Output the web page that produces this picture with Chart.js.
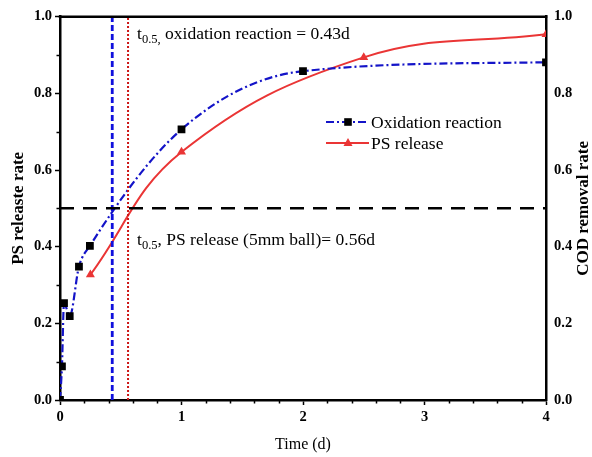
<!DOCTYPE html>
<html>
<head>
<meta charset="utf-8">
<script src="https://cdn.jsdelivr.net/npm/chart.js@4.4.1/dist/chart.umd.min.js"></script>
<style>
  html, body { margin: 0; padding: 0; background: #fff; }
  #wrap { width: 592px; height: 457px; }
</style>
</head>
<body>
<div id="wrap"><canvas id="c" width="592" height="457"></canvas></div>
<script>
const SERIF = '"Liberation Serif", "Times New Roman", Times, serif';

// Oxidation reaction (COD removal) over time, days
const oxTime = [0, 0.016, 0.033, 0.08, 0.156, 0.246, 1, 2, 4];
const oxRate = [0, 0.088, 0.253, 0.219, 0.348, 0.402, 0.706, 0.858, 0.881];

// PS release over time, days
const psTime = [0.25, 1, 2.5, 4];
const psRate = [0.327, 0.647, 0.894, 0.954];

// Half-life markers
const halfLevel = 0.5;
const tHalfOxidation = 0.43;
const tHalfRelease = 0.56;

// Axis ticks and labels
const xTicks = [0, 1, 2, 3, 4];
const xMinorTicks = [0.2, 0.4, 0.6, 0.8, 1.2, 1.4, 1.6, 1.8, 2.2, 2.4, 2.6, 2.8, 3.2, 3.4, 3.6, 3.8];
const yTicks = [0, 0.2, 0.4, 0.6, 0.8, 1.0];
const yMinorTicks = [0.1, 0.3, 0.5, 0.7, 0.9];
const seriesNames = ['Oxidation reaction', 'PS release'];
const xTitle = 'Time (d)';
const yTitle = 'PS releaste rate';
const y2Title = 'COD removal rate';

const BLUE = '#1414c8';
const RED = '#ea3535';

const toPoints = (xs, ys) => xs.map((x, i) => ({ x: x, y: ys[i] }));

// Text labels placed in data coordinates
const notes = [
  { x: 0.634, y: 0.941, pre: 't', sub: '0.5,', post: ' oxidation reaction = ' + tHalfOxidation.toFixed(2) + 'd' },
  { x: 0.634, y: 0.405, pre: 't', sub: '0.5', post: ', PS release (5mm ball)= ' + tHalfRelease.toFixed(2) + 'd' }
];

const decor = {
  id: 'decor',
  afterDraw(chart) {
    const ctx = chart.ctx;
    const a = chart.chartArea;
    const sx = chart.scales.x, sy = chart.scales.y;
    ctx.save();

    // top frame edge
    ctx.strokeStyle = '#000';
    ctx.lineWidth = 2.5;
    ctx.beginPath();
    ctx.moveTo(a.left - 1.25, a.top);
    ctx.lineTo(a.right + 1.25, a.top);
    ctx.stroke();

    // minor ticks
    ctx.lineWidth = 1.5;
    ctx.beginPath();
    xMinorTicks.forEach(v => {
      const px = Math.round(sx.getPixelForValue(v)) + 0.5;
      ctx.moveTo(px, a.bottom);
      ctx.lineTo(px, a.bottom + 3.5);
    });
    yMinorTicks.forEach(v => {
      const py = Math.round(sy.getPixelForValue(v)) + 0.5;
      ctx.moveTo(a.left, py);
      ctx.lineTo(a.left - 3.5, py);
    });
    ctx.stroke();

    // axis titles
    ctx.fillStyle = '#000';
    ctx.textAlign = 'center';
    ctx.textBaseline = 'middle';
    ctx.font = '16px ' + SERIF;
    ctx.fillText(xTitle, (a.left + a.right) / 2, 445);

    ctx.font = 'bold 17px ' + SERIF;
    const cy = (a.top + a.bottom) / 2;
    ctx.save();
    ctx.translate(19, cy);
    ctx.rotate(-Math.PI / 2);
    ctx.fillText(yTitle, 0, 0);
    ctx.restore();
    ctx.save();
    ctx.translate(584, cy);
    ctx.rotate(-Math.PI / 2);
    ctx.fillText(y2Title, 0, 0);
    ctx.restore();

    // notes with subscripts
    ctx.textAlign = 'left';
    ctx.textBaseline = 'alphabetic';
    notes.forEach(n => {
      let px = sx.getPixelForValue(n.x);
      const py = sy.getPixelForValue(n.y);
      ctx.font = '17.5px ' + SERIF;
      ctx.fillText(n.pre, px, py);
      px += ctx.measureText(n.pre).width;
      ctx.font = '12.5px ' + SERIF;
      ctx.fillText(n.sub, px, py + 4);
      px += ctx.measureText(n.sub).width;
      ctx.font = '17.5px ' + SERIF;
      ctx.fillText(n.post, px, py);
    });

    // legend
    const lx0 = 326, lx1 = 369, mx = 348, tx = 371;
    const rows = [122, 143];
    ctx.font = '17.5px ' + SERIF;
    ctx.textBaseline = 'middle';

    ctx.strokeStyle = BLUE;
    ctx.lineWidth = 2.2;
    ctx.setLineDash([8, 3, 2, 3]);
    ctx.beginPath();
    ctx.moveTo(lx0, rows[0]);
    ctx.lineTo(lx1, rows[0]);
    ctx.stroke();
    ctx.setLineDash([]);
    ctx.fillStyle = '#000';
    ctx.fillRect(mx - 3.8, rows[0] - 3.8, 7.6, 7.6);
    ctx.fillText(seriesNames[0], tx, rows[0] + 1);

    ctx.strokeStyle = RED;
    ctx.lineWidth = 2;
    ctx.beginPath();
    ctx.moveTo(lx0, rows[1]);
    ctx.lineTo(lx1, rows[1]);
    ctx.stroke();
    ctx.fillStyle = RED;
    ctx.beginPath();
    ctx.moveTo(mx, rows[1] - 5);
    ctx.lineTo(mx + 4.5, rows[1] + 3);
    ctx.lineTo(mx - 4.5, rows[1] + 3);
    ctx.closePath();
    ctx.fill();
    ctx.fillStyle = '#000';
    ctx.fillText(seriesNames[1], tx, rows[1] + 1);

    ctx.restore();
  }
};

const tickFont = { family: SERIF, size: 14.5, weight: 'bold' };

new Chart(document.getElementById('c'), {
  type: 'line',
  data: {
    datasets: [
      {
        label: 'half level',
        data: [{ x: 0, y: halfLevel }, { x: 4, y: halfLevel }],
        borderColor: '#000',
        borderWidth: 2.5,
        borderDash: [14, 9],
        pointRadius: 0,
        tension: 0
      },
      {
        label: 't0.5 oxidation',
        data: [{ x: tHalfOxidation, y: 0 }, { x: tHalfOxidation, y: 1 }],
        borderColor: '#1010dd',
        borderWidth: 2.8,
        borderDash: [6, 3],
        pointRadius: 0,
        tension: 0
      },
      {
        label: 't0.5 release',
        data: [{ x: tHalfRelease, y: 0 }, { x: tHalfRelease, y: 1 }],
        borderColor: '#cc1515',
        borderWidth: 2,
        borderDash: [2, 2],
        pointRadius: 0,
        tension: 0
      },
      {
        label: seriesNames[0],
        data: toPoints(oxTime, oxRate),
        borderColor: BLUE,
        borderWidth: 2.2,
        borderDash: [8, 3, 2, 3],
        cubicInterpolationMode: 'monotone',
        pointStyle: 'rect',
        pointRadius: 5.5,
        pointBorderWidth: 0,
        pointBackgroundColor: '#000',
        pointBorderColor: '#000',
        clip: 0
      },
      {
        label: seriesNames[1],
        data: toPoints(psTime, psRate),
        borderColor: RED,
        borderWidth: 2,
        tension: 0.4,
        pointStyle: 'triangle',
        pointRadius: 5.2,
        pointBorderWidth: 0,
        pointBackgroundColor: RED,
        pointBorderColor: RED,
        clip: 0
      }
    ]
  },
  options: {
    responsive: false,
    animation: false,
    devicePixelRatio: 1,
    layout: { padding: { top: 12, left: 0, right: 0, bottom: 0 } },
    plugins: { legend: { display: false }, tooltip: { enabled: false } },
    scales: {
      x: {
        type: 'linear',
        position: 'bottom',
        min: 0,
        max: 4,
        afterBuildTicks: s => { s.ticks = xTicks.map(v => ({ value: v })); },
        afterFit: s => { s.height = 57; },
        ticks: { font: tickFont, color: '#000', padding: 4, maxRotation: 0, callback: v => String(v) },
        grid: { drawOnChartArea: false, drawTicks: true, tickLength: 5, tickWidth: 1.5, tickColor: '#000' },
        border: { display: true, color: '#000', width: 2.5 }
      },
      y: {
        type: 'linear',
        position: 'left',
        min: 0,
        max: 1,
        afterBuildTicks: s => { s.ticks = yTicks.map(v => ({ value: v })); },
        afterFit: s => { s.width = 60; },
        ticks: { font: tickFont, color: '#000', padding: 3, callback: v => Number(v).toFixed(1) },
        grid: { drawOnChartArea: false, drawTicks: true, tickLength: 5, tickWidth: 1.5, tickColor: '#000' },
        border: { display: true, color: '#000', width: 2.5 }
      },
      y2: {
        type: 'linear',
        position: 'right',
        min: 0,
        max: 1,
        afterBuildTicks: s => { s.ticks = yTicks.map(v => ({ value: v })); },
        afterFit: s => { s.width = 46; },
        ticks: { font: tickFont, color: '#000', padding: 8, callback: v => Number(v).toFixed(1) },
        grid: { drawOnChartArea: false, drawTicks: false },
        border: { display: true, color: '#000', width: 2.5 }
      }
    }
  },
  plugins: [decor]
});
</script>
</body>
</html>
